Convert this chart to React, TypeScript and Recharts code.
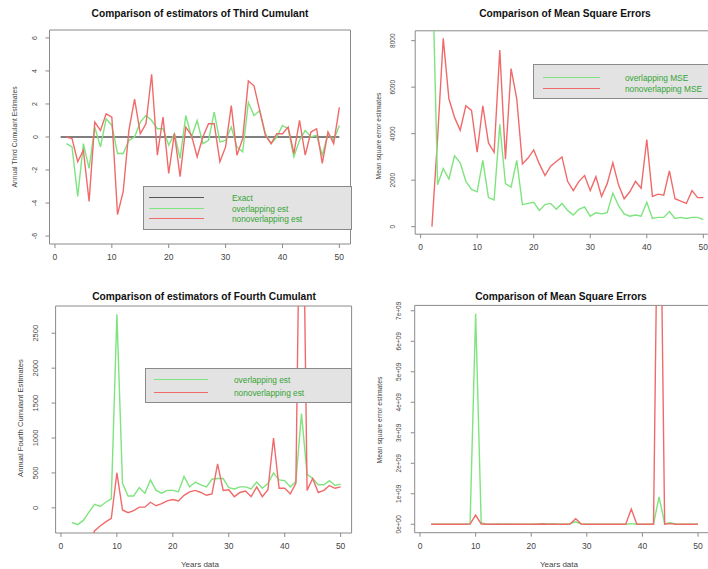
import { LineChart, Line, XAxis, YAxis, ReferenceArea, Legend } from 'recharts';

// years of data used for each estimate
const YEARS = [
  2, 3, 4, 5, 6, 7, 8, 9, 10, 11, 12, 13, 14, 15, 16, 17, 18, 19, 20, 21, 22, 23, 24, 25, 26,
  27, 28, 29, 30, 31, 32, 33, 34, 35, 36, 37, 38, 39, 40, 41, 42, 43, 44, 45, 46, 47, 48, 49, 50,
];
const EXACT_START_YEAR = 1;
const THIRD_EXACT = 0;

const THIRD_OVERLAP = [
  -0.4, -0.6, -3.6, -0.4, -1.9, 0.6, -0.6, 1.1, 0.7, -1.0, -1.0, -0.2, 0, 0.9, 1.3, 1.0, 0.5, 0.5,
  -0.5, 0.2, -1.3, 1.3, 0, 1.0, -0.4, -0.2, 1.5, -0.3, -0.2, 0.6, -0.6, -0.9, 2.1, 1.3, 1.6, 0.2,
  -0.4, 0, 0.7, 0.5, -1.2, -0.2, 0.4, 0, 0.1, -1.1, 0.2, -0.2, 0.7,
];
const THIRD_NONOVERLAP = [
  0, -0.1, -1.5, -0.8, -3.9, 0.9, 0.4, 1.4, 1.2, -4.7, -3.3, 0.4, 2.3, 0.2, 0.8, 3.8, -1.1, 1.2,
  -2.2, 0.2, -2.4, 0.6, 0.1, -1.2, 0, 0.8, 0.8, -1.5, -0.6, 1.9, -1.1, -0.1, 3.4, 3.1, 1.6, 0.1,
  -0.4, 0.2, 0.2, 0.6, -1.0, 1.0, -1.1, 0.3, 0.5, -1.6, 0.3, -0.4, 1.8,
];

const MSE3_OVERLAP = [
  12000, 1800, 2500, 2050, 3050, 2750, 1950, 1600, 1500, 2850, 1250, 1150, 4400, 1850, 1700, 2850,
  950, 1000, 1050, 700, 950, 1000, 750, 1000, 700, 500, 750, 850, 450, 600, 550, 600, 1450, 900,
  550, 450, 500, 450, 1050, 350, 400, 400, 650, 350, 400, 350, 400, 400, 300,
];
const MSE3_NONOVERLAP = [
  0, 3800, 8100, 5500, 4700, 4150, 5200, 5000, 3200, 5200, 3600, 3200, 7600, 2900, 6800, 5500,
  2700, 2950, 3300, 2700, 2200, 2600, 2800, 3000, 1950, 1550, 1950, 2200, 1550, 2150, 1300, 1850,
  2750, 1800, 1200, 1500, 1950, 1650, 3750, 1300, 1400, 1350, 2400, 1200, 1100, 1000, 1550, 1250,
  1250,
];

const FOURTH_OVERLAP = [
  -210, -240, -180, -60, 50, 20, 80, 130, 2770, 350, 170, 170, 290, 210, 400, 250, 210, 250, 250,
  230, 450, 300, 370, 330, 300, 410, 420, 420, 290, 270, 300, 300, 270, 370, 280, 350, 500, 400,
  390, 300, 380, 1350, 480, 420, 330, 330, 390, 320, 340,
];
const FOURTH_NONOVERLAP = [
  -900, -800, -700, -550, -330, -260, -200, -150, 500, -30, -70, -40, 10, 10, 80, 30, 60, 100, 120,
  100, 180, 230, 250, 220, 180, 200, 630, 250, 260, 160, 220, 240, 160, 300, 160, 260, 1000, 280,
  280, 200, 350, 6500, 250, 420, 220, 250, 320, 280, 300,
];

const MSE4_OVERLAP = [
  0, 0, 0, 0, 0, 0, 0, 0.02e9, 6.9e9, 0.05e9, 0, 0, 0.01e9, 0, 0.01e9, 0, 0, 0, 0, 0.01e9, 0.02e9,
  0.01e9, 0.02e9, 0, 0, 0.02e9, 0.08e9, 0.01e9, 0, 0, 0, 0, 0, 0, 0, 0, 0.02e9, 0, 0, 0, 0.01e9,
  0.9e9, 0.02e9, 0.05e9, 0.01e9, 0, 0, 0, 0,
];
const MSE4_NONOVERLAP = [
  0, 0, 0, 0, 0, 0, 0, 0.01e9, 0.3e9, 0.01e9, 0, 0, 0, 0, 0, 0, 0, 0, 0, 0, 0.01e9, 0, 0, 0, 0,
  0.01e9, 0.18e9, 0.01e9, 0, 0, 0, 0, 0, 0, 0, 0, 0.5e9, 0, 0, 0, 0, 15e9, 0, 0.02e9, 0, 0, 0, 0,
  0,
];

const X_TICKS = [0, 10, 20, 30, 40, 50];
const THIRD_TICKS = [-6, -4, -2, 0, 2, 4, 6];
const MSE3_TICKS = [0, 2000, 4000, 6000, 8000];
const FOURTH_TICKS = [0, 500, 1000, 1500, 2000, 2500];
const MSE4_TICKS = [0, 1e9, 2e9, 3e9, 4e9, 5e9, 6e9, 7e9];

const X_DOMAIN: [number, number] = [-0.96, 51.96];
const GREEN = '#7ee47e';
const RED = '#f06a6a';
const EXACT_COLOR = '#555555';
const FRAME = '#8a8a8a';
const TEXT_GREEN = '#35a335';
const FONT = '"Liberation Sans", Arial, sans-serif';

type Row = { year: number; over?: number; non?: number; exact?: number };

const rowsFor = (over: number[], non: number[]): Row[] =>
  YEARS.map((year, i) => ({ year, over: over[i], non: non[i] }));

const thirdRows: Row[] = [
  { year: EXACT_START_YEAR, exact: THIRD_EXACT },
  ...rowsFor(THIRD_OVERLAP, THIRD_NONOVERLAP).map((r) => ({ ...r, exact: THIRD_EXACT })),
];
const mse3Rows = rowsFor(MSE3_OVERLAP, MSE3_NONOVERLAP);
const fourthRows = rowsFor(FOURTH_OVERLAP, FOURTH_NONOVERLAP);
const mse4Rows = rowsFor(MSE4_OVERLAP, MSE4_NONOVERLAP);

const sci = (v: number) => (v === 0 ? '0e+00' : `${Math.round(v / 1e9)}e+09`);

interface LegendItem { label: string; color: string }
interface LegendSpec {
  left: number; top: number; width: number; height: number;
  lineLeft: number; lineLen: number; textLeft: number; rows: number[];
  items: LegendItem[];
}

function LegendBox({ spec }: { spec: LegendSpec }) {
  return (
    <div
      style={{
        position: 'relative', width: spec.width, height: spec.height, boxSizing: 'border-box',
        background: '#e3e3e3', border: `1px solid ${FRAME}`, fontFamily: FONT,
      }}
    >
      {spec.items.map((it, i) => (
        <div key={it.label}>
          <div
            style={{
              position: 'absolute', left: spec.lineLeft, top: spec.rows[i] - 1, width: spec.lineLen,
              height: 0, borderTop: `1.4px solid ${it.color}`,
            }}
          />
          <div
            style={{
              position: 'absolute', left: spec.textLeft, top: spec.rows[i] - 6, lineHeight: '12px',
              fontSize: 8.3, color: TEXT_GREEN, whiteSpace: 'nowrap',
            }}
          >
            {it.label}
          </div>
        </div>
      ))}
    </div>
  );
}

interface SeriesDef { key: keyof Row; color: string }
interface PanelProps {
  left: number; top: number; width: number; height: number;
  plot: { l: number; t: number; r: number; b: number };
  data: Row[];
  series: SeriesDef[];
  yDomain: [number, number];
  yTicks: number[];
  yFmt?: (v: number) => string;
  yLabelX: number;
  yFontSize?: number;
  legend?: LegendSpec;
}

function Panel(p: PanelProps) {
  const YTick = (t: any) => {
    const v = t.payload.value as number;
    return (
      <text
        x={p.yLabelX} y={t.y} transform={`rotate(-90 ${p.yLabelX} ${t.y})`}
        textAnchor="middle" dominantBaseline="central" fontSize={p.yFontSize ?? 6.5} fill="#444"
      >
        {p.yFmt ? p.yFmt(v) : String(v)}
      </text>
    );
  };
  return (
    <div style={{ position: 'absolute', left: p.left, top: p.top }}>
      <LineChart
        width={p.width}
        height={p.height}
        data={p.data}
        margin={{ top: p.plot.t, right: p.width - p.plot.r, left: 0, bottom: 0 }}
      >
        <XAxis
          type="number" dataKey="year" domain={X_DOMAIN} ticks={X_TICKS} allowDataOverflow
          height={p.height - p.plot.b} axisLine={false} tickSize={4} tickMargin={6}
          tickLine={{ stroke: FRAME }} tick={{ fill: '#444', fontSize: 8.5 }}
        />
        <YAxis
          type="number" domain={p.yDomain} ticks={p.yTicks} allowDataOverflow
          width={p.plot.l} axisLine={false} tickSize={4} tickLine={{ stroke: FRAME }} tick={YTick}
        />
        <ReferenceArea
          x1={X_DOMAIN[0]} x2={X_DOMAIN[1]} y1={p.yDomain[0]} y2={p.yDomain[1]}
          fill="none" fillOpacity={0} stroke={FRAME} strokeWidth={1} ifOverflow="visible"
        />
        {p.series.map((s) => (
          <Line
            key={s.key} type="linear" dataKey={s.key} stroke={s.color} strokeWidth={1.4}
            dot={false} activeDot={false} isAnimationActive={false}
          />
        ))}
        {p.legend && (
          <Legend
            layout="horizontal" verticalAlign="middle"
            wrapperStyle={{ left: p.legend.left, top: p.legend.top, width: p.legend.width, height: p.legend.height }}
            content={() => <LegendBox spec={p.legend!} />}
          />
        )}
      </LineChart>
    </div>
  );
}

const Txt = ({ x, y, size, bold, rotate, children }: {
  x: number; y: number; size: number; bold?: boolean; rotate?: boolean; children: string;
}) => (
  <div
    style={{
      position: 'absolute', left: x, top: y, whiteSpace: 'nowrap', fontSize: size, lineHeight: 1,
      fontWeight: bold ? 700 : 400, color: bold ? '#111' : '#444',
      transform: `translate(-50%, -50%)${rotate ? ' rotate(-90deg)' : ''}`,
    }}
  >
    {children}
  </div>
);

export default function App() {
  return (
    <div
      style={{
        position: 'absolute', left: 0, top: 0, width: 708, height: 569, overflow: 'hidden',
        background: '#fff', fontFamily: FONT,
      }}
    >
      <Panel
        left={0} top={0} width={354} height={270}
        plot={{ l: 49.5, t: 30, r: 350.5, b: 244 }}
        data={thirdRows}
        series={[
          { key: 'exact', color: EXACT_COLOR },
          { key: 'over', color: GREEN },
          { key: 'non', color: RED },
        ]}
        yDomain={[-6.48, 6.48]} yTicks={THIRD_TICKS} yLabelX={35} yFontSize={7}
        legend={{
          left: 143, top: 186, width: 209, height: 44, lineLeft: 5, lineLen: 55, textLeft: 88,
          rows: [11, 22, 32],
          items: [
            { label: 'Exact', color: EXACT_COLOR },
            { label: 'overlapping est', color: GREEN },
            { label: 'nonoverlapping est', color: RED },
          ],
        }}
      />
      <Panel
        left={354} top={0} width={362} height={270}
        plot={{ l: 61.2, t: 30.8, r: 360.4, b: 234.2 }}
        data={mse3Rows}
        series={[
          { key: 'non', color: RED },
          { key: 'over', color: GREEN },
        ]}
        yDomain={[-324, 8424]} yTicks={MSE3_TICKS} yLabelX={38.3}
        legend={{
          left: 179.3, top: 63.5, width: 183, height: 35.5, lineLeft: 9, lineLen: 57, textLeft: 90.7,
          rows: [13.8, 24.8],
          items: [
            { label: 'overlapping MSE', color: GREEN },
            { label: 'nonoverlapping MSE', color: RED },
          ],
        }}
      />
      <Panel
        left={0} top={280} width={354} height={289}
        plot={{ l: 55.6, t: 26, r: 351.6, b: 253 }}
        data={fourthRows}
        series={[
          { key: 'over', color: GREEN },
          { key: 'non', color: RED },
        ]}
        yDomain={[-360, 2890]} yTicks={FOURTH_TICKS} yLabelX={36} yFontSize={7.5}
        legend={{
          left: 145, top: 88.3, width: 207, height: 35, lineLeft: 8, lineLen: 54, textLeft: 88,
          rows: [11, 24],
          items: [
            { label: 'overlapping est', color: GREEN },
            { label: 'nonoverlapping est', color: RED },
          ],
        }}
      />
      <Panel
        left={354} top={280} width={356} height={289}
        plot={{ l: 60.7, t: 25.4, r: 354.9, b: 252.7 }}
        data={mse4Rows}
        series={[
          { key: 'over', color: GREEN },
          { key: 'non', color: RED },
        ]}
        yDomain={[-0.276e9, 7.176e9]} yTicks={MSE4_TICKS} yFmt={sci} yLabelX={44.3}
      />

      <Txt x={200} y={14} size={10.2} bold>Comparison of estimators of Third Cumulant</Txt>
      <Txt x={565} y={14} size={10.2} bold>Comparison of Mean Square Errors</Txt>
      <Txt x={204} y={297} size={10.2} bold>Comparison of estimators of Fourth Cumulant</Txt>
      <Txt x={561} y={297} size={10.2} bold>Comparison of Mean Square Errors</Txt>

      <Txt x={15} y={137} size={6.8} rotate>Annual Third Cumulant Estimates</Txt>
      <Txt x={379} y={136} size={6.8} rotate>Mean square error estimates</Txt>
      <Txt x={21} y={418} size={7.6} rotate>Annual Fourth Cumulant Estimates</Txt>
      <Txt x={380} y={420} size={6.8} rotate>Mean square error estimates</Txt>

      <Txt x={200} y={565} size={8}>Years data</Txt>
      <Txt x={559} y={565} size={8}>Years data</Txt>
    </div>
  );
}
